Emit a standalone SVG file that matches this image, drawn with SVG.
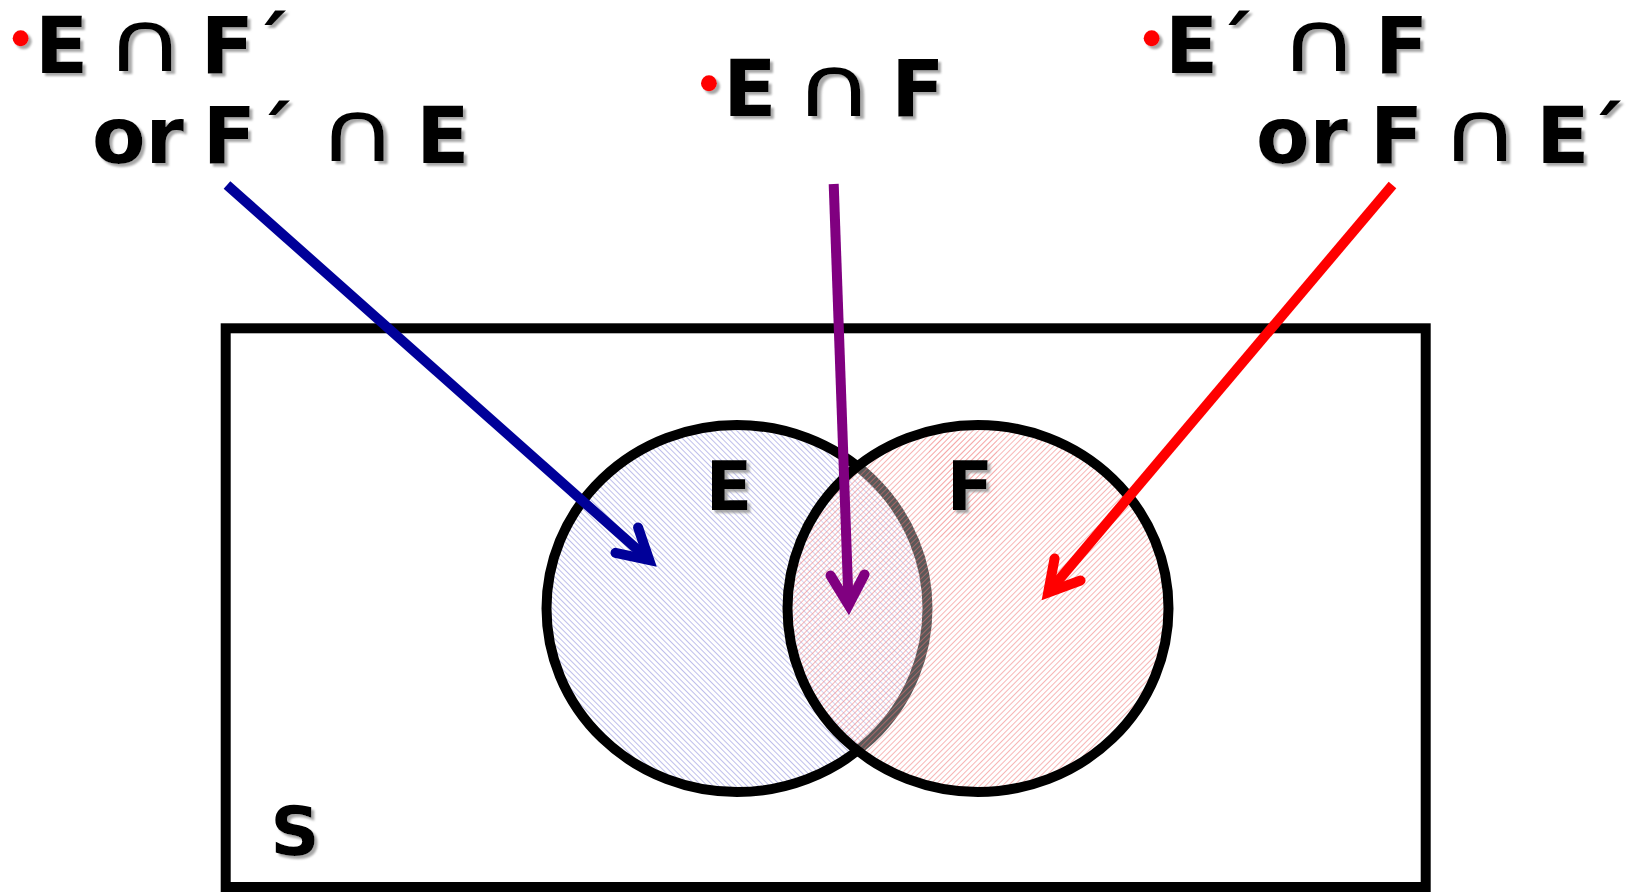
<svg xmlns="http://www.w3.org/2000/svg" width="1631" height="892" viewBox="0 0 1631 892">
  <style>
    .t { font-family: "DejaVu Sans", "Liberation Sans", sans-serif; font-weight: bold; font-size: 78px; fill: #000; filter: url(#shadow); }
    .cap { font-family: "DejaVu Sans", "Liberation Sans", sans-serif; font-weight: normal; font-size: 84px; fill: #000; filter: url(#shadow); text-anchor: middle; }
    .lbl { font-family: "DejaVu Sans", "Liberation Sans", sans-serif; font-weight: bold; font-size: 68px; fill: #000; filter: url(#shadow); text-anchor: middle; }
    .bullet { fill: #ff0000; filter: url(#shadow); }
    .set { stroke: #000; stroke-width: 10; }
    .arrow { fill: none; stroke-width: 10; stroke-linecap: butt; }
  </style>
  <defs>
    <filter id="shadow" x="-20%" y="-20%" width="150%" height="150%">
      <feDropShadow dx="3" dy="3" stdDeviation="1" flood-color="#999999" flood-opacity="0.85"/>
    </filter>
    <pattern id="hatchBlue" patternUnits="userSpaceOnUse" width="4" height="4" patternTransform="rotate(-45)">
      <rect width="4" height="4" fill="#ffffff"/>
      <line x1="0" y1="0" x2="0" y2="4" stroke="#9c9ce0" stroke-width="1.3"/>
    </pattern>
    <pattern id="hatchRed" patternUnits="userSpaceOnUse" width="4" height="4" patternTransform="rotate(45)">
      <rect width="4" height="4" fill="#ffffff" fill-opacity="0.35"/>
      <line x1="0" y1="0" x2="0" y2="4" stroke="#f07070" stroke-opacity="0.8" stroke-width="1.3"/>
    </pattern>
    <marker id="headBlue" markerUnits="userSpaceOnUse" orient="auto" viewBox="-45 -30 60 60" markerWidth="60" markerHeight="60" refX="0" refY="0" overflow="visible">
      <path d="M -30 -17 L 0 0 L -30 17" fill="none" stroke="#000099" stroke-width="10" stroke-linecap="round" stroke-linejoin="miter"/>
    </marker>
    <marker id="headPurple" markerUnits="userSpaceOnUse" orient="auto" viewBox="-45 -30 60 60" markerWidth="60" markerHeight="60" refX="0" refY="0" overflow="visible">
      <path d="M -30 -17 L 0 0 L -30 17" fill="none" stroke="#800080" stroke-width="10" stroke-linecap="round" stroke-linejoin="miter"/>
    </marker>
    <marker id="headRed" markerUnits="userSpaceOnUse" orient="auto" viewBox="-45 -30 60 60" markerWidth="60" markerHeight="60" refX="0" refY="0" overflow="visible">
      <path d="M -30 -17 L 0 0 L -30 17" fill="none" stroke="#ff0000" stroke-width="10" stroke-linecap="round" stroke-linejoin="miter"/>
    </marker>
  </defs>

  <rect width="1631" height="892" fill="#ffffff"/>

  <g id="sample-space">
    <rect x="225.7" y="328.3" width="1200" height="558.7" fill="none" class="set"/>
    <text class="lbl" x="295" y="855" font-size="62">S</text>
  </g>

  <g id="set-E">
    <ellipse cx="737" cy="608.5" rx="190.5" ry="183.5" fill="url(#hatchBlue)" class="set"/>
  </g>

  <g id="set-F">
    <ellipse cx="978" cy="608.5" rx="190.5" ry="183.5" fill="url(#hatchRed)" class="set"/>
    <rect x="929" y="437" width="68" height="100" fill="url(#hatchRed)" opacity="0.6"/>
  </g>

  <g id="label-E">
    <text class="lbl" x="729" y="510">E</text>
  </g>
  <g id="label-F">
    <text class="lbl" x="970" y="510">F</text>
  </g>

  <g id="text-left">
    <circle class="bullet" cx="20.7" cy="38.3" r="8"/>
    <text class="t" y="73" text-anchor="middle"><tspan x="61.7">E</tspan><tspan x="227.5">F</tspan><tspan x="270">´</tspan></text>
    <text class="cap" transform="translate(145,71) scale(1.3,1)">∩</text>
    <text class="t" y="163" text-anchor="middle"><tspan x="138">or</tspan><tspan x="229.5">F</tspan><tspan x="274">´</tspan><tspan x="443">E</tspan></text>
    <text class="cap" transform="translate(357.5,161) scale(1.3,1)">∩</text>
  </g>

  <g id="text-middle">
    <circle class="bullet" cx="709" cy="83.3" r="8"/>
    <text class="t" y="116" text-anchor="middle"><tspan x="750">E</tspan><tspan x="918">F</tspan></text>
    <text class="cap" transform="translate(834,116) scale(1.3,1)">∩</text>
  </g>

  <g id="text-right">
    <circle class="bullet" cx="1151.7" cy="38.3" r="8"/>
    <text class="t" y="73" text-anchor="middle"><tspan x="1191.7">E</tspan><tspan x="1234">´</tspan><tspan x="1401.7">F</tspan></text>
    <text class="cap" transform="translate(1319,71) scale(1.3,1)">∩</text>
    <text class="t" y="163" text-anchor="middle"><tspan x="1302">or</tspan><tspan x="1396.7">F</tspan><tspan x="1563">E</tspan><tspan x="1605">´</tspan></text>
    <text class="cap" transform="translate(1480,161) scale(1.3,1)">∩</text>
  </g>

  <g id="connectors">
    <path class="arrow" d="M 227 185 L 649.2 560.1" stroke="#000099" marker-end="url(#headBlue)"/>
    <path class="arrow" d="M 833.7 184 L 848.6 605" stroke="#800080" marker-end="url(#headPurple)"/>
    <path class="arrow" d="M 1392.5 185 L 1048.2 592.4" stroke="#ff0000" marker-end="url(#headRed)"/>
  </g>
</svg>
